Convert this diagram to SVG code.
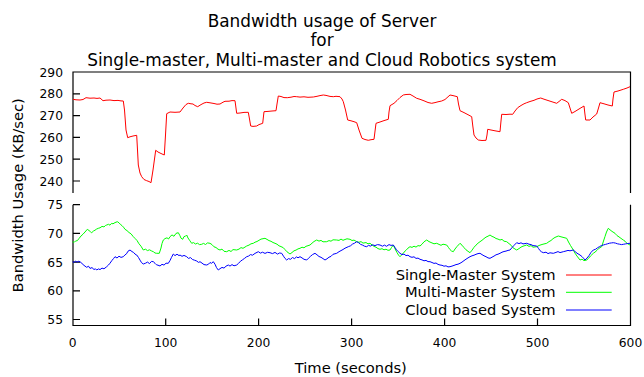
<svg xmlns="http://www.w3.org/2000/svg" width="644" height="377" viewBox="0 0 644 377">
<style>
text{font-family:"DejaVu Sans","Liberation Sans",sans-serif;fill:#000}
.title{font-size:16.9px;text-anchor:middle}
.tick{font-size:12.3px}
.yt{text-anchor:end}
.xt{text-anchor:middle}
.lab{font-size:14.7px}
.leg{font-size:14.7px;text-anchor:end}
.axis{fill:none;stroke:#000;stroke-width:1.2}
.data{fill:none;stroke-width:1;stroke-linejoin:round}
</style>
<rect width="644" height="377" fill="#fff"/>
<g id="title">
<text class="title" x="322" y="26.5">Bandwidth usage of Server</text>
<text class="title" x="322" y="46">for</text>
<text class="title" x="322" y="65.5">Single-master, Multi-master and Cloud Robotics system</text>
</g>
<g id="axes">
<path class="axis" d="M73,193 V72 H630.5 V193"/>
<path class="axis" d="M73,204.7 V325.5 H630.5 V204.7"/>
<path class="axis" d="M73,93.8 h7 M73,115.6 h7 M73,137.4 h7 M73,159.2 h7 M73,181 h7"/>
<path class="axis" d="M73,204.7 h7 M73,233.4 h7 M73,262.1 h7 M73,290.8 h7 M73,319.5 h7"/>
<path class="axis" d="M165.7,325.5 v-7 M258.6,325.5 v-7 M351.6,325.5 v-7 M444.6,325.5 v-7 M537.5,325.5 v-7"/>
</g>
<g id="tick-labels">
<text class="tick yt" x="63" y="76.5">290</text>
<text class="tick yt" x="63" y="98.3">280</text>
<text class="tick yt" x="63" y="120.1">270</text>
<text class="tick yt" x="63" y="141.9">260</text>
<text class="tick yt" x="63" y="163.7">250</text>
<text class="tick yt" x="63" y="185.5">240</text>
<text class="tick yt" x="63" y="209.2">75</text>
<text class="tick yt" x="63" y="237.9">70</text>
<text class="tick yt" x="63" y="266.6">65</text>
<text class="tick yt" x="63" y="295.3">60</text>
<text class="tick yt" x="63" y="324">55</text>
<text class="tick xt" x="72.7" y="346.7">0</text>
<text class="tick xt" x="165.7" y="346.7">100</text>
<text class="tick xt" x="258.6" y="346.7">200</text>
<text class="tick xt" x="351.6" y="346.7">300</text>
<text class="tick xt" x="444.6" y="346.7">400</text>
<text class="tick xt" x="537.5" y="346.7">500</text>
<text class="tick xt" x="630.5" y="346.7">600</text>
</g>
<g id="axis-labels">
<text class="lab" x="350.8" y="373.3" text-anchor="middle">Time (seconds)</text>
<text class="lab" transform="translate(22.6,195.3) rotate(-90)" text-anchor="middle">Bandwidth Usage (KB/sec)</text>
</g>
<g id="series">
<polyline class="data" stroke="#ff0000" points="73,99.3 76,99.8 80,100 83,99.5 86,97.7 90,98.2 94,98 97,98.4 100,98 103,100.7 106,100.2 110,100 114,100.6 118,100.4 121,100.9 123.3,101 124.5,110 126,130 127.7,137.7 130,136.8 133,136 136.7,135.3 137.5,150 138.3,165 140,173 141.7,176.7 144,179.5 146.7,180.7 149,181.5 151,182.7 153,170 155.7,150.3 158,152 161,153.5 164.3,155 165.5,135 166.7,113.7 170,112 175,112.3 180,112 183,108 186,104.5 188.3,103.3 191,103.8 193,104 195,105.5 197.7,106.7 201,104.6 204,103 206.7,102.3 210,102.8 214,103.5 217,104.2 220,104 223,102.2 225,101.3 229,101.2 232,100.6 235,100.7 236.7,113.3 240,113 244,112.4 248.3,112.3 249.5,119 250.7,126 253,126.4 256.7,126 259,124.6 262.7,123.3 264,111.7 268,111.4 272,111 276,110.7 277,104 278.3,96 281,96.5 284,97.6 287.3,97.7 291,97.2 294,96.5 296.7,96.7 300,97.1 304,96.8 308,97.3 313.3,97 317,96.3 320,95.6 323.3,95 326,95.4 330,96.4 333.3,96.7 336,96.3 340,96.7 342,99 343.3,101.7 345.5,110 347.7,120 351,120.8 354,121.7 356.7,122.7 359,130 362,138.3 365,139.5 368.3,140.3 371,139.7 374,139.3 376,123.3 380,122 384,120.6 388.3,119.3 389,112 390,105.7 394,103.3 397,100.5 400,97.5 403.3,95 406,94.5 410,94.3 413,96 416.7,98.3 420,99.3 424,100.8 428,102.5 431.7,103.3 435,102.6 438,101.8 441.7,101 445,99.5 450,95 453,95.6 457.3,96.7 458.5,104 460,110.7 464,112.6 468,114.7 471.7,116.7 472.8,126 474,135 476,138 478.3,140 482,140.5 486,140.3 487,135 487.7,129.3 491,130 495,130.8 500,131.7 500.8,123 501.7,114.3 506,114.5 510,114.2 512.7,114.3 515,111 517.7,107.7 521,105.5 524,103.8 526.7,102.7 530,101.5 534,100.3 537,99 540.7,98 544,99.2 548,100.5 552,101.8 556.7,103.3 559,101.5 561.7,99.3 565,100.6 568.3,102.7 570,108 571.7,113.3 575,111.5 579,109 584,106 584.8,113 585.7,120 590,120 593,117 596.7,114 598.5,108 600,102.7 604,103.8 608,105 612.3,106 613,99 614,92 618,91 623.3,89.3 627,88 630,86.7"/>
<polyline class="data" stroke="#00ff00" points="72.7,241.7 74,242.5 75.5,241 77.3,240.7 79,238.5 81,236 83,234.2 85,232 87.3,229.3 89,230.5 90.5,231.8 91.7,232.7 93.5,231 95,230.2 96.7,229 98.3,228.3 100,227.8 102,226.4 104,226.9 105.5,225.5 106.7,225 108.5,224.3 110,225.2 111.5,223.4 113,223.8 115,222.6 117.3,221.7 119,222.8 120.5,224.5 122,225.6 123.5,227.2 125,229.3 127,230.6 129,232.5 131,233.8 133.3,236.7 135,238.4 137,240.5 139,243.8 141,246.2 143.3,250 145.5,249.2 147.5,250.6 149.5,249.8 151.7,251 153.5,251.8 155,253 156.7,253.3 159.3,253.3 161,248 162,243.5 163.3,240 165,238.6 167,237.8 168.5,239 170,236.7 172,234.9 174,236.3 176,233.4 178.3,232.7 180,235.8 181,238.2 182.7,239.3 184,236.6 185.5,236.2 186.7,235 188,238 189.5,240.2 191.7,243.3 193.5,242.6 195.5,244 197.5,243.2 199.5,244.6 201.7,244.3 203.5,243.4 205.5,244.5 207.5,242.9 210,243.3 212,244.6 214,246.8 216,247.5 218,249.2 220,250 222,249.1 224,251.3 226.7,251.7 229,250.4 231,251.5 233,249.6 236.7,250 239,249.1 241,247.6 243,248.3 246.7,246 249,245.1 251,243.8 253.3,243.3 255,242.2 257,241.5 259,240.3 261,239.1 263,238.7 265,238.3 267,239.4 269,240.6 271,241.3 273,242.5 275,243.3 277,244.2 279,245.8 281,246.6 283.3,247.7 285,249.6 287,251.8 290,254 292,252.5 294,250.8 296,250.1 298,248.9 300,248.3 302,247.2 304,247.8 306,246.3 308,245.7 310,245 312,243.2 314,241.5 316.7,240 319,241.1 321,240.4 323,241.8 326.7,241.7 329,240.6 331,241.2 333,239.8 336.7,240 339,240.4 341,239.1 343,240.3 345,239.5 347,238.8 350,239.3 352,240.5 354,240.1 356.7,241.7 359,242.3 361,241.6 363,243.1 366,242.6 368,243.8 370,243.3 372,244.9 374,246.4 376,247.2 378,248.6 380,249.3 382,248.7 384,249.8 386,249.2 388,250.3 390,250 391.5,247.5 393.3,245 395,248.8 397,252.6 398.5,255.1 400,256.7 402,254.5 404,252.2 406,250.3 408,248.1 410,246.7 412,247.4 414,246.2 416,247.1 418,245.6 420,246 422,244.2 424,241.8 426.7,240 429,241.6 431,242.5 434,243.8 436.7,243.3 439,244.4 441,245.3 443,244.2 446.7,245 448.5,247.5 450,249.6 451.5,251 453.3,251.7 455,249 457,246.5 460,243.3 462,245.2 464,247.6 466,249.8 468,251.3 470,252.7 472,250.2 474,247.3 476,245.1 478,243.2 480,241.7 482,240.3 484,238.6 486,237.1 488,236.2 490,235 492,236.4 494,237.2 496,238.5 498,239.1 500,240 502,239.4 504,241.2 506.7,241.7 509,243.6 511,245.2 513,247.8 516.7,250 519,248.6 521,247.1 523,246.2 526.7,245 529,246.4 531,245.6 533,247.2 536.7,246.7 539,245.5 541,244.8 543,244.2 546.7,243.3 549,241.6 551,240.5 553,238.7 555,237.4 558.3,236 561,236.8 564,237.6 566.7,238.3 568.5,242 570.5,245.5 573.3,250 575,253.2 577,256.1 580,260 582,259.2 584,260.6 586.7,260 588.5,258.4 590.5,256 593.3,253.3 595,252.1 597,250.3 599,248.2 601.7,246.7 603.5,241 605,236.5 606.5,232 608.3,228.3 610,229.8 612,231.4 615,233.3 617,235.6 619,236.9 621,238.4 623.3,240 625,241.2 627,243.4 630,245"/>
<polyline class="data" stroke="#0000ff" points="72.7,261.7 74,262.5 75.5,261 77,262.2 78.5,261.3 80,261.7 82,263.5 84,265.4 86.7,267.3 88.5,266.2 90,268.4 92,267.6 94,269.5 95.5,268.8 96.7,270 98.5,268.9 100,269.6 102,268.1 104,268.8 106.7,266.7 108.5,265 110,263.2 112,260.4 113.5,258.6 115,256.7 117,258 119,256.2 121,257.4 123.3,256.7 125,254.9 126.5,253.8 128,251.2 130,250 132,251.6 133.5,252.4 135,254.1 136.7,255 138.5,257.5 140,260.1 141.5,262.6 143.3,264 145.5,263.2 147.5,262.1 149.5,263.6 151.5,261.4 153.3,261.7 155,263.3 156.5,264.8 158,265.2 160,266 162,264.3 164,265.1 166,263.2 168.3,263.3 170,260.5 171.5,257.4 173.3,254 175,255.6 177,254.2 179,255.6 180,255 182,256.3 184,255.4 186.7,256.7 188.5,258.4 190.5,257.6 192.5,259.5 194.5,260.2 196.7,261 198.5,262.4 200,261.7 202,263.1 204,264.6 206.7,265 208.5,264.2 210,262.5 211.5,263.3 213.3,261.7 215,264.2 216.5,267.6 218.3,270 220,268.7 222,267.4 224,268.1 226,266.2 228.3,265 230,266.1 232,264.6 234,265.8 236.7,265 238.5,263.4 240.5,261.2 242.5,259.8 244.5,258.4 246.7,256.7 248.5,256.1 250.5,254.6 252.5,255.2 255,253.4 258.3,251.7 260.5,253.1 262.5,252.2 265,253.4 267.5,252.3 270,252.7 272.5,253.6 275,252.4 277.5,254.1 279.5,253 281.7,253.3 283.5,256.2 285,258.4 286.7,260 288.5,258.6 290.5,259.3 292.5,257.5 294.5,258.6 296.5,256.9 298,257.8 300,256.7 302,257.9 304,259.3 306.7,260 308.5,258.2 310.5,256.3 312.5,254.6 315,253.3 317,254.8 319,256.5 321,257.3 323,258.6 325,260 327,258.8 329,257.2 331,256.4 333,254.3 336.7,253.3 339,251.7 341,250.6 343,249.5 345,248.2 348.3,246.7 350.5,245.8 352.5,244.1 354.5,243.2 356.7,241.7 358.5,242.6 360.5,244.3 362.5,245.1 364.5,246.2 366.7,246.7 368.5,245.4 370.5,246.1 372.5,244.8 375,245.6 377.5,244.6 380,245 382.5,246.2 384.5,245.1 386.5,246.3 389,244.6 391,245.4 393.3,245 395,247.5 396.5,249.8 398.2,251.6 400,253.3 402,254.6 404,254.1 406,255.6 408,255.2 410,256.7 412,257.3 414,256.8 416,258.4 418,258.1 420,259.3 422,259.9 424,260.8 426,260.4 428,261.6 430,261.7 432,262.5 434,263.4 436,263 438,264.4 440,265 442,265.3 444,266.2 446,265.8 448,266.9 450,266.7 452,266.1 454,265.4 456,264.6 458,264.2 460,263.3 462,262.1 464,260.6 466,259.2 468,257.9 470,256.7 472,255.8 474,255.2 476,254.3 478,253.6 480,253.3 482,254.6 484,255.8 486,256.7 488,257.9 490,258.3 492,257.2 494,256.1 496,254.8 498,254.2 500,253.3 502,252.2 504,251.5 506,251.1 508,250.4 510,250 512,247.6 514,245.4 516.7,242.7 519,243.6 521,242.8 523,243.9 526.7,243.3 529,244.2 531,244.6 533,245.6 536.7,246 538.5,248.4 540,250.6 541.5,251.8 543.3,252.7 546,252.2 548,253.6 550,252.8 553.3,253.3 556,252.4 558,251.6 560,252.6 563.3,251.7 566,251 568,250.4 570,250.8 573.3,250 575,251.5 577,253.2 580,255 582,256.6 583.5,258.2 585,260 587,258.1 589,255.6 591,252.4 593.3,250 595.5,249.3 597.5,247.8 599.5,246.6 601.5,245.6 603.3,245 605.5,244.4 607.5,243.8 609.5,243.2 611.5,242.9 613.3,242.7 615.5,243.1 617.5,243.8 619.5,244.2 621.5,244.6 623.3,244.3 625.5,243.9 627.5,243.5 630,243.3"/>
</g>
<g id="legend">
<text class="leg" x="555.7" y="280">Single-Master System</text>
<text class="leg" x="555.7" y="297.3">Multi-Master System</text>
<text class="leg" x="555.7" y="315">Cloud based System</text>
<line class="data" stroke="#ff0000" x1="566" y1="275" x2="611.7" y2="275"/>
<line class="data" stroke="#00ff00" x1="566" y1="292.3" x2="611.7" y2="292.3"/>
<line class="data" stroke="#0000ff" x1="566" y1="310" x2="611.7" y2="310"/>
</g>
</svg>
